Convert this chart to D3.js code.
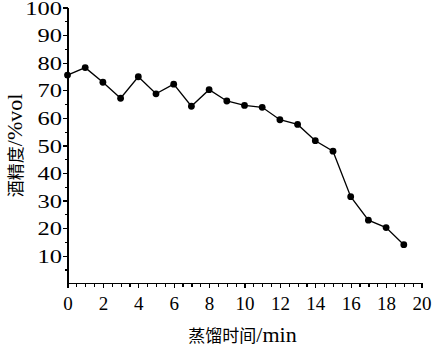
<!DOCTYPE html>
<html>
<head>
<meta charset="utf-8">
<script src="https://cdn.jsdelivr.net/npm/d3@7/dist/d3.min.js"></script>
<style>
  html, body { margin: 0; padding: 0; background: #fff; }
  svg { display: block; }
  .axis path, .axis line { stroke: #000; stroke-width: 1.2; shape-rendering: crispEdges; }
</style>
</head>
<body>
<svg id="chart" width="433" height="347"></svg>
<script>
// Distillation time (min) and alcohol content (%vol)
const timeMin = [0, 1, 2, 3, 4, 5, 6, 7, 8, 9, 10, 11, 12, 13, 14, 15, 16, 17, 18, 19];
const alcohol = [75.5, 78.2, 72.9, 67.1, 74.9, 68.7, 72.2, 64.2, 70.2, 66.1, 64.5, 63.8, 59.3, 57.6, 51.7, 47.9, 31.4, 22.9, 20.2, 14.0];
const xTickLabels = [0, 2, 4, 6, 8, 10, 12, 14, 16, 18, 20];
const yTickLabels = [10, 20, 30, 40, 50, 60, 70, 80, 90, 100];
const xTitleCJK = "蒸馏时间", xTitleUnit = "/min";
const yTitleCJK = "酒精度", yTitleUnit = "/%vol";

const serif = "Liberation Serif, serif";
const cjk = "Noto Sans CJK SC, sans-serif";

const svg = d3.select("#chart");
const plotLeft = 67.5, plotRight = 421.5, plotTop = 7.5, plotBottom = 283.3;

const x = d3.scaleLinear().domain([0, 20]).range([plotLeft, plotRight]);
const y = d3.scaleLinear().domain([0, 100]).range([plotBottom, plotTop]);

// x axis: minor ticks every 0.5, labelled ticks every 2
svg.append("g").attr("class", "axis")
  .attr("transform", `translate(0,${plotBottom})`)
  .call(d3.axisBottom(x).tickValues(d3.range(0, 20.01, 0.5)).tickSize(4).tickSizeOuter(0).tickFormat(""));
const gx = svg.append("g").attr("class", "axis")
  .attr("transform", `translate(0,${plotBottom})`)
  .call(d3.axisBottom(x).tickValues(xTickLabels).tickSize(4.5).tickSizeOuter(0).tickPadding(9));
gx.attr("font-family", serif).attr("font-size", 19);
gx.selectAll("text").attr("fill", "#000");
gx.select(".domain").remove();

// y axis: minor ticks every 5, labelled ticks every 10
svg.append("g").attr("class", "axis")
  .attr("transform", `translate(${plotLeft},0)`)
  .call(d3.axisLeft(y).tickValues(d3.range(5, 100, 10)).tickSize(2.5).tickSizeOuter(0).tickFormat(""));
const gy = svg.append("g").attr("class", "axis")
  .attr("transform", `translate(${plotLeft},0)`)
  .call(d3.axisLeft(y).tickValues(yTickLabels).tickSize(4.5).tickSizeOuter(0));
gy.attr("font-family", serif).attr("font-size", 18);
gy.select(".domain").attr("d", `M0,${plotBottom}V${plotTop}`);
gy.selectAll("text")
  .attr("fill", "#000")
  .attr("x", null)
  .attr("dy", "0.33em")
  .attr("transform", "translate(-5.5,0.8) scale(1.36,1)");

// line and markers
const line = d3.line().x((d, i) => x(timeMin[i])).y(d => y(d));
svg.append("path")
  .datum(alcohol)
  .attr("d", line)
  .attr("fill", "none")
  .attr("stroke", "#000")
  .attr("stroke-width", 1.3);
svg.append("g").selectAll("circle")
  .data(alcohol)
  .join("circle")
  .attr("cx", (d, i) => x(timeMin[i]))
  .attr("cy", d => y(d))
  .attr("r", 3.4)
  .attr("fill", "#000");

// axis titles
const xt = svg.append("text")
  .attr("x", (plotLeft + plotRight) / 2 - 2)
  .attr("y", 342)
  .attr("text-anchor", "middle")
  .attr("fill", "#000");
xt.append("tspan").attr("font-family", cjk).attr("font-size", 17).text(xTitleCJK);
xt.append("tspan").attr("font-family", serif).attr("font-size", 22).text(xTitleUnit);

const yt = svg.append("text")
  .attr("transform", `translate(22,${(plotTop + plotBottom) / 2}) rotate(-90)`)
  .attr("text-anchor", "middle")
  .attr("fill", "#000");
yt.append("tspan").attr("font-family", cjk).attr("font-size", 17).text(yTitleCJK);
yt.append("tspan").attr("font-family", serif).attr("font-size", 22).text(yTitleUnit);
</script>
</body>
</html>
